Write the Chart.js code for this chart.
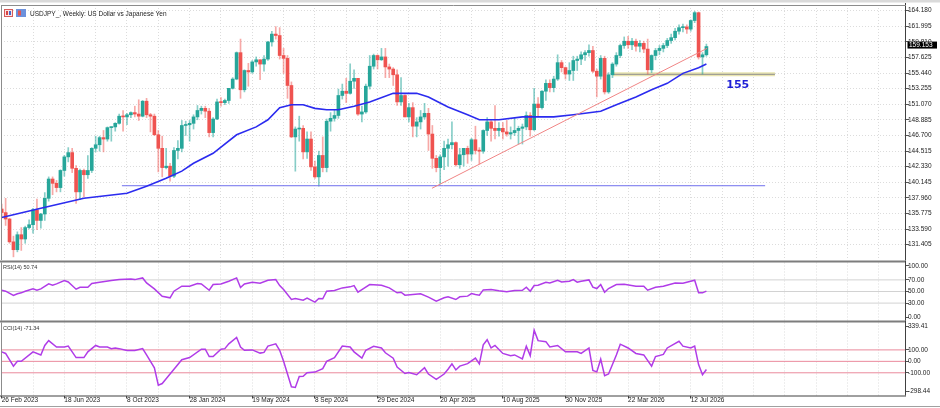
<!DOCTYPE html>
<html>
<head>
<meta charset="utf-8">
<title>USDJPY Weekly</title>
<script src="https://cdn.jsdelivr.net/npm/chart.js@4.4.1/dist/chart.umd.min.js"></script>
<style>
  html, body { margin: 0; padding: 0; background: #fff; }
  #wrap { position: relative; width: 940px; height: 408px; overflow: hidden; background: #fff; }
  #wrap canvas { position: absolute; left: 0; }
</style>
</head>
<body>
<div id="wrap">
  <canvas id="main" width="940" height="262" style="top:0"></canvas>
  <canvas id="rsi" width="940" height="70" style="top:255px"></canvas>
  <canvas id="cci" width="940" height="92" style="top:316px"></canvas>
</div>
<script>
// weekly candles, bar 0 = 26 Feb 2023 (open of each bar = previous close)
const firstOpen = 136.4;
const closes = [
  135.9,135.0,131.8,130.7,132.8,132.2,133.8,134.2,136.3,134.8,
  135.7,137.9,140.6,140.0,139.4,141.8,143.7,144.3,142.1,138.8,
  141.8,141.2,141.8,144.9,145.4,146.4,146.2,147.8,147.9,148.4,
  149.4,149.3,149.6,149.9,149.7,149.4,151.5,149.6,149.4,146.8,
  144.9,142.2,142.4,141.0,144.6,144.9,148.1,148.2,148.4,149.3,
  150.2,150.5,150.1,147.1,149.0,151.4,151.3,151.6,153.3,154.6,
  158.3,153.1,155.8,155.6,157.0,157.3,156.7,157.4,159.8,160.9,
  160.7,157.9,157.5,153.7,146.5,147.6,147.7,144.4,146.2,142.3,
  140.9,143.9,142.2,148.7,149.1,149.5,152.3,152.9,152.6,154.3,
  154.7,149.7,150.0,153.6,156.4,157.9,157.3,157.7,156.3,156.0,
  155.2,151.4,152.3,149.3,150.6,148.0,148.6,149.3,149.8,146.9,
  143.5,142.2,143.7,144.9,145.4,145.7,142.6,144.0,144.9,144.1,
  146.1,144.6,144.5,147.4,148.6,147.7,147.4,147.7,147.2,146.9,
  147.1,147.4,147.7,147.9,149.5,147.5,151.1,150.6,152.9,154.0,
  153.4,154.6,156.9,156.2,155.3,155.8,157.2,157.4,158.0,158.3,
  158.6,155.7,155.0,157.5,152.8,155.2,156.7,157.9,159.3,159.9,
  159.4,159.9,159.2,159.6,158.8,155.9,157.9,158.6,158.9,159.3,
  160.0,160.4,161.3,161.8,161.9,161.6,162.8,163.9,157.7,158.0,
  159.153
];
const highs = [
  137.1,137.9,135.1,132.6,133.2,133.8,134.0,134.9,136.5,137.8,
  135.8,138.7,140.9,140.9,140.4,141.9,143.9,145.0,144.9,142.5,
  142.0,142.0,143.9,145.0,146.6,146.6,147.4,147.9,147.9,148.5,
  149.7,150.2,149.8,150.0,150.8,151.7,151.6,151.9,149.8,149.7,
  147.4,146.6,144.9,142.8,145.0,146.0,148.8,148.7,148.8,149.6,
  150.9,150.8,150.8,150.5,149.2,151.8,152.0,151.8,153.3,154.8,
  158.4,160.2,155.9,156.8,157.2,157.7,157.3,157.9,159.9,161.3,
  161.95,161.8,158.9,157.9,154.2,147.9,149.4,148.1,147.2,147.2,
  143.1,144.5,146.5,149.0,149.9,150.3,153.2,153.9,154.7,156.75,
  155.9,154.7,150.8,153.9,157.9,158.1,158.0,158.9,158.9,156.7,
  156.2,155.9,154.8,152.4,151.2,151.3,149.2,150.2,151.2,150.5,
  148.1,143.9,144.0,145.9,146.2,148.6,145.8,144.9,144.9,145.2,
  146.3,148.0,145.0,147.5,149.2,148.8,150.9,148.5,148.5,148.8,
  147.9,149.1,148.0,148.3,150.0,149.9,153.3,152.0,153.0,154.5,
  154.5,155.0,158.0,157.2,156.3,156.9,157.8,157.8,158.4,158.6,
  159.4,159.2,156.0,157.9,157.8,155.5,156.9,158.3,159.5,160.5,
  160.6,160.3,160.2,160.0,159.9,160.2,158.0,158.9,159.3,159.6,
  160.3,160.9,161.7,162.2,162.3,162.2,162.9,164.1,164.0,158.3,
  159.5
];
const lows = [
  135.3,134.1,131.6,129.7,130.4,130.6,131.6,133.6,133.0,133.5,
  133.7,134.8,137.5,138.4,138.8,138.8,141.0,143.0,141.5,137.2,
  137.7,138.1,140.7,141.5,144.4,144.5,144.4,145.9,145.9,147.3,
  148.3,147.3,148.2,149.2,149.3,148.8,149.3,149.2,147.2,146.7,
  141.6,140.9,142.0,140.3,140.8,143.4,144.4,146.7,145.9,147.6,
  148.9,149.7,149.2,146.5,146.5,148.9,150.8,151.0,151.2,153.2,
  154.5,151.9,152.8,153.6,155.4,156.4,154.5,155.7,157.2,159.2,
  160.2,157.4,155.4,151.9,146.4,141.7,145.9,143.4,143.5,141.8,
  140.7,139.6,141.6,141.6,147.3,148.7,149.1,151.8,151.3,152.5,
  153.3,149.5,148.6,149.8,153.2,156.0,156.0,157.2,154.8,154.8,
  153.7,150.9,150.9,149.3,148.6,146.5,146.5,147.6,149.0,144.6,
  142.1,141.6,139.9,141.9,142.4,144.8,142.4,142.1,142.4,142.8,
  143.2,144.1,142.7,144.2,146.7,145.9,146.2,146.6,146.2,146.6,
  146.2,146.7,145.5,145.5,147.5,146.6,147.4,149.4,150.4,151.6,
  152.8,152.8,154.4,155.6,154.6,154.4,154.4,155.8,156.6,157.2,
  157.8,155.5,152.1,154.6,152.5,152.6,154.8,156.4,157.6,158.9,
  158.9,158.7,158.5,158.4,158.3,155.3,155.5,157.3,158.0,158.4,
  159.0,159.6,160.1,160.9,161.2,161.0,161.3,162.5,157.4,155.3,
  157.8
];

// moving average (bar index -> value)
const maBars = [0,10,21,32,37,42,46,49,54,60,65,68,71,74,77,80,83,86,90,94,100,106,109,114,119,122,127,133,141,146,153,157,162,166,170,174,178,180];
const maValues = [135.2,136.5,137.9,138.6,139.6,140.7,141.7,142.8,144.2,146.8,147.9,148.9,150.6,151.0,151.0,150.5,150.3,150.3,150.8,151.4,152.6,152.6,152.1,150.7,149.6,148.9,148.9,149.3,149.3,149.6,150.1,151.0,152.1,153.1,154.0,155.4,156.2,156.7];

// RSI(14)
const rsiBars = [0,1,3,4,5,6,8,9,10,12,13,14,16,17,19,20,22,23,25,28,30,33,34,36,37,39,41,43,44,46,48,50,51,53,54,56,58,60,61,62,64,66,68,70,71,72,74,75,77,78,80,81,82,83,85,87,89,90,91,92,94,97,99,101,102,103,105,107,109,111,113,114,116,117,119,120,121,122,123,125,127,129,131,133,134,135,136,137,139,140,142,143,145,146,147,148,150,151,152,153,154,155,157,159,162,164,165,167,169,172,174,177,178,179,180];
const rsiValues = [52.2,50.5,43.1,46,47.7,50.5,54.5,52.2,54.5,63.1,60.8,63.1,68.8,66.5,54,57.4,57.4,63.7,66,68.8,70.5,71.7,70.5,73.4,64.8,54.5,41.9,39.1,50.5,59.1,59.1,63.7,63.1,52.2,62,63.1,67.7,73.4,57,63.1,66,64.2,69.4,70.5,60.2,53.4,36.2,38,35.1,38.5,31.7,38,37.4,50.5,51.7,56.2,58,60.2,48.8,53.4,62,60.8,56.2,47.7,48.8,43.7,44.8,46,40.2,33.4,39.1,40.8,36.2,40.8,42,46.5,44.8,43.7,52.8,53.4,51.1,49.4,51.7,52.2,57.4,50.5,60.2,60.8,66,64.8,69.4,66.5,67.7,70.5,66,67.7,70,57.4,55.1,62,48.8,55.1,62,62.5,59.1,59.1,52.2,57.4,59.1,64.8,64.2,69.4,47.7,47.7,50.74];

// CCI(14)
const cciBars = [0,1,3,4,5,8,10,11,12,14,16,17,19,21,22,24,25,27,28,29,30,32,34,36,37,39,40,41,42,44,46,48,51,52,53,54,56,57,58,60,61,62,64,66,67,68,70,71,72,73,74,75,76,77,78,80,82,83,85,87,89,90,92,93,95,97,98,100,101,103,104,106,108,109,111,113,114,115,116,117,119,121,122,123,124,125,126,128,130,131,133,134,135,136,137,139,140,142,144,147,148,150,151,152,153,154,155,157,158,160,162,164,166,167,169,170,173,174,176,177,178,179,180];
const cciValues = [83,69,-42,0,0,83,56,139,181,125,125,133,33,33,83,139,125,125,111,117,111,94,94,111,56,-56,-208,-194,-153,-69,14,33,106,106,42,42,106,111,153,208,125,97,100,72,78,133,153,97,0,-111,-222,-228,-133,-131,-100,-94,-64,0,33,133,125,83,28,97,131,117,75,28,-50,-106,-97,-117,-56,-111,-158,-111,-69,-22,-75,-42,-20,28,-22,144,189,117,139,69,50,56,22,133,50,272,181,172,125,139,83,83,69,117,-80,-92,19,-125,-111,56,150,117,69,56,-42,42,61,117,175,133,117,133,-28,-117,-71.34];

// axes
const priceTicks = [131.405,133.590,135.775,137.960,140.145,142.330,144.515,146.700,148.885,151.070,153.255,155.440,157.625,159.810,161.995,164.180];
const rsiTicks = [0,30,50,70,100];
const rsiLevels = [30,50,70];
const cciTicks = [-298.44,-100,0,100,339.41];
const cciLevels = [-100,0,100];
const xTickBars = [0,16,32,48,64,80,96,112,128,144,160,176];
const xTickLabels = ['26 Feb 2023','18 Jun 2023','8 Oct 2023','28 Jan 2024','19 May 2024','8 Sep 2024','29 Dec 2024','20 Apr 2025','10 Aug 2025','30 Nov 2025','22 Mar 2026','12 Jul 2026'];

// drawn objects
const supportLine = { from: 30.7, to: 195, price: 139.66 };
const trendLine = { from: 109.9, fromPrice: 139.30, to: 180.2, toPrice: 158.91 };
const zoneLine = { from: 156.1, to: 197.5, price: 155.27 };
const zoneText = { text: '155', bar: 188, price: 153.73 };

const X_MIN = -0.18, X_MAX = 230.98;
const PRICE_MIN = 129.258, PRICE_MAX = 164.974;
const FONT = '"Liberation Sans", Arial, sans-serif';
const GRID = '#dcdcdc';

Chart.defaults.font.family = FONT;

const opens = closes.map((c, i) => i === 0 ? firstOpen : closes[i - 1]);
const isUp = closes.map((c, i) => c >= opens[i]);

const gridTicks = (s) => {
  const t = [];
  for (let b = 0; b <= X_MAX; b += 8) t.push({ value: b });
  s.ticks = t;
};

const xScale = (height, labels) => ({
  type: 'linear', min: X_MIN, max: X_MAX, offset: false,
  afterBuildTicks: gridTicks,
  afterFit: (s) => { s.height = height; s.paddingLeft = 0; s.paddingRight = 0; },
  ticks: {
    display: labels, autoSkip: false, maxRotation: 0, minRotation: 0, align: 'start', padding: -2,
    color: '#222', font: { size: 6.5 },
    callback: (v) => { const k = xTickBars.indexOf(v); return k >= 0 ? xTickLabels[k] : ''; }
  },
  grid: {
    color: GRID, offset: false, drawTicks: labels, tickLength: 3,
    tickColor: (c) => (c.tick && xTickBars.includes(c.tick.value)) ? '#444' : 'rgba(0,0,0,0)'
  },
  border: { display: false, dash: [1, 2] }
});

const yScale = (min, max, ticks, digits, panelPx, edgePx, showGrid) => ({
  type: 'linear', position: 'right', min: min, max: max,
  afterBuildTicks: (s) => {
    const d = edgePx / panelPx * (max - min);
    s.ticks = ticks.map(v => ({ value: v >= max ? v - d : (v <= min ? v + d : v) }));
  },
  afterFit: (s) => { s.width = 34; s.paddingTop = 0; s.paddingBottom = 0; },
  ticks: { autoSkip: false, color: '#222', font: { size: 6.5 }, padding: -1, callback: (v, i) => ticks[i].toFixed(digits) },
  grid: { color: GRID, drawOnChartArea: showGrid, tickLength: 3, tickColor: '#555' },
  border: { display: false, dash: [1, 2] }
});

const lineSet = (data, color, width, order) => ({
  type: 'line', data: data, borderColor: color, borderWidth: width,
  pointRadius: 0, tension: 0, fill: false, order: order
});

const baseOptions = (padding) => ({
  responsive: false, animation: false, events: [],
  layout: { padding: padding },
  plugins: { legend: { display: false }, tooltip: { enabled: false } }
});

const panelFrame = (ctx, a, sep) => {
  if (sep) {
    ctx.fillStyle = '#7d7d7d';
    ctx.fillRect(0, a.top - 2, a.right, 2);
  }
  ctx.strokeStyle = '#8c8c8c';
  ctx.lineWidth = 1;
  ctx.beginPath(); ctx.moveTo(a.left + 0.5, a.top); ctx.lineTo(a.left + 0.5, a.bottom); ctx.stroke();
  ctx.strokeStyle = '#404040';
  ctx.beginPath(); ctx.moveTo(a.right - 0.5, a.top - 2); ctx.lineTo(a.right - 0.5, a.bottom); ctx.stroke();
};

// main price panel
const mainDecor = {
  id: 'mainDecor',
  afterDraw(chart) {
    const { ctx, chartArea: a, scales: { x, y } } = chart;
    ctx.save();
    ctx.fillStyle = '#dadada';
    ctx.fillRect(0, 0, 940, 2.5);
    panelFrame(ctx, a, false);
    ctx.strokeStyle = '#8c8c8c';
    ctx.beginPath(); ctx.moveTo(a.left, a.top + 0.5); ctx.lineTo(a.right, a.top + 0.5); ctx.stroke();

    ctx.fillStyle = '#fbe3e3'; ctx.fillRect(4, 9, 9, 8);
    ctx.strokeStyle = '#d65a5a'; ctx.strokeRect(4.5, 9.5, 8, 7);
    ctx.fillStyle = '#d64545'; ctx.fillRect(6, 11, 2, 4);
    ctx.fillStyle = '#4466cc'; ctx.fillRect(9, 11, 2, 4);
    ctx.fillStyle = '#6d91dc'; ctx.fillRect(16, 9, 10, 8);
    ctx.fillStyle = '#e05555'; ctx.fillRect(18, 10.5, 3, 5);

    ctx.fillStyle = '#222';
    ctx.font = '6.5px ' + FONT;
    ctx.textBaseline = 'alphabetic';
    ctx.textAlign = 'left';
    ctx.fillText('USDJPY_, Weekly: US Dollar vs Japanese Yen', 30, 15.5);

    const last = closes[closes.length - 1];
    const yp = y.getPixelForValue(last) - 1.5;
    ctx.fillStyle = '#000';
    ctx.fillRect(a.right + 1.5, yp - 3.5, 29.5, 7);
    ctx.fillStyle = '#fff';
    ctx.textBaseline = 'middle';
    ctx.fillText(last.toFixed(3), a.right + 3, yp + 0.3);

    ctx.fillStyle = '#1f1fd6';
    ctx.font = 'bold 11px "DejaVu Sans", sans-serif';
    ctx.textAlign = 'center';
    ctx.fillText(zoneText.text, x.getPixelForValue(zoneText.bar), y.getPixelForValue(zoneText.price));
    ctx.restore();
  }
};

new Chart(document.getElementById('main'), {
  type: 'bar',
  data: {
    datasets: [
      lineSet([{ x: zoneLine.from, y: zoneLine.price }, { x: zoneLine.to, y: zoneLine.price }], '#e9e4b0', 4, 9),
      lineSet([{ x: zoneLine.from, y: zoneLine.price }, { x: zoneLine.to, y: zoneLine.price }], '#8e8e8e', 1, 8),
      {
        type: 'bar', data: closes.map((c, i) => ({ x: i, y: [lows[i], highs[i]] })),
        backgroundColor: isUp.map(u => u ? 'rgba(38,166,154,0.55)' : 'rgba(239,83,80,0.5)'),
        barThickness: 1, grouped: false, order: 7
      },
      {
        type: 'bar', data: closes.map((c, i) => ({ x: i, y: [opens[i], c] })),
        backgroundColor: isUp.map(u => u ? '#26a69a' : '#ef5350'),
        barThickness: 3, grouped: false, minBarLength: 1, order: 6
      },
      lineSet([{ x: supportLine.from, y: supportLine.price }, { x: supportLine.to, y: supportLine.price }], '#7070ee', 1, 4),
      lineSet(maBars.map((b, k) => ({ x: b, y: maValues[k] })), '#2b2bef', 1.6, 3),
      lineSet([{ x: trendLine.from, y: trendLine.fromPrice }, { x: trendLine.to, y: trendLine.toPrice }], '#f08585', 1, 2)
    ]
  },
  options: Object.assign(baseOptions({ left: 1, right: 0, top: 5, bottom: 2 }), {
    scales: {
      x: xScale(0, false),
      y: yScale(PRICE_MIN, PRICE_MAX, priceTicks, 3, 255, 0, true)
    }
  }),
  plugins: [mainDecor]
});

// RSI panel
const rsiDecor = {
  id: 'rsiDecor',
  afterDraw(chart) {
    const { ctx, chartArea: a } = chart;
    ctx.save();
    panelFrame(ctx, a, true);
    ctx.fillStyle = '#333';
    ctx.font = '5.5px ' + FONT;
    ctx.fillText('RSI(14) ' + rsiValues[rsiValues.length - 1].toFixed(2), 3, a.top + 6.5);
    ctx.restore();
  }
};

new Chart(document.getElementById('rsi'), {
  type: 'line',
  data: {
    datasets: rsiLevels.map(v => lineSet([{ x: X_MIN, y: v }, { x: X_MAX, y: v }], '#d2d2d2', 1, 5))
      .concat([lineSet(rsiBars.map((b, k) => ({ x: b, y: rsiValues[k] })), '#b03ce8', 1.5, 1)])
  },
  options: Object.assign(baseOptions({ left: 1, right: 0, top: 7.5, bottom: 4.5 }), {
    scales: {
      x: xScale(0, false),
      y: yScale(0, 100, rsiTicks, 2, 58, 3.3, false)
    }
  }),
  plugins: [rsiDecor]
});

// CCI panel
const cciDecor = {
  id: 'cciDecor',
  afterDraw(chart) {
    const { ctx, chartArea: a } = chart;
    ctx.save();
    panelFrame(ctx, a, true);
    ctx.strokeStyle = '#404040';
    ctx.beginPath(); ctx.moveTo(0, a.bottom + 0.5); ctx.lineTo(a.right, a.bottom + 0.5); ctx.stroke();
    ctx.strokeStyle = '#a0a0a0';
    ctx.beginPath(); ctx.moveTo(0, 90.5); ctx.lineTo(940, 90.5); ctx.stroke();
    ctx.fillStyle = '#333';
    ctx.font = '5.5px ' + FONT;
    ctx.fillText('CCI(14) ' + cciValues[cciValues.length - 1].toFixed(2), 3, a.top + 7);
    ctx.restore();
  }
};

new Chart(document.getElementById('cci'), {
  type: 'line',
  data: {
    datasets: cciLevels.map(v => lineSet([{ x: X_MIN, y: v }, { x: X_MAX, y: v }], '#ea8a9c', 1, 5))
      .concat([lineSet(cciBars.map((b, k) => ({ x: b, y: cciValues[k] })), '#b03ce8', 1.5, 1)])
  },
  options: Object.assign(baseOptions({ left: 1, right: 0, top: 6.5, bottom: 0 }), {
    scales: {
      x: xScale(12.5, true),
      y: yScale(-298.44, 339.41, cciTicks, 2, 73, 4, false)
    }
  }),
  plugins: [cciDecor]
});
</script>
</body>
</html>
